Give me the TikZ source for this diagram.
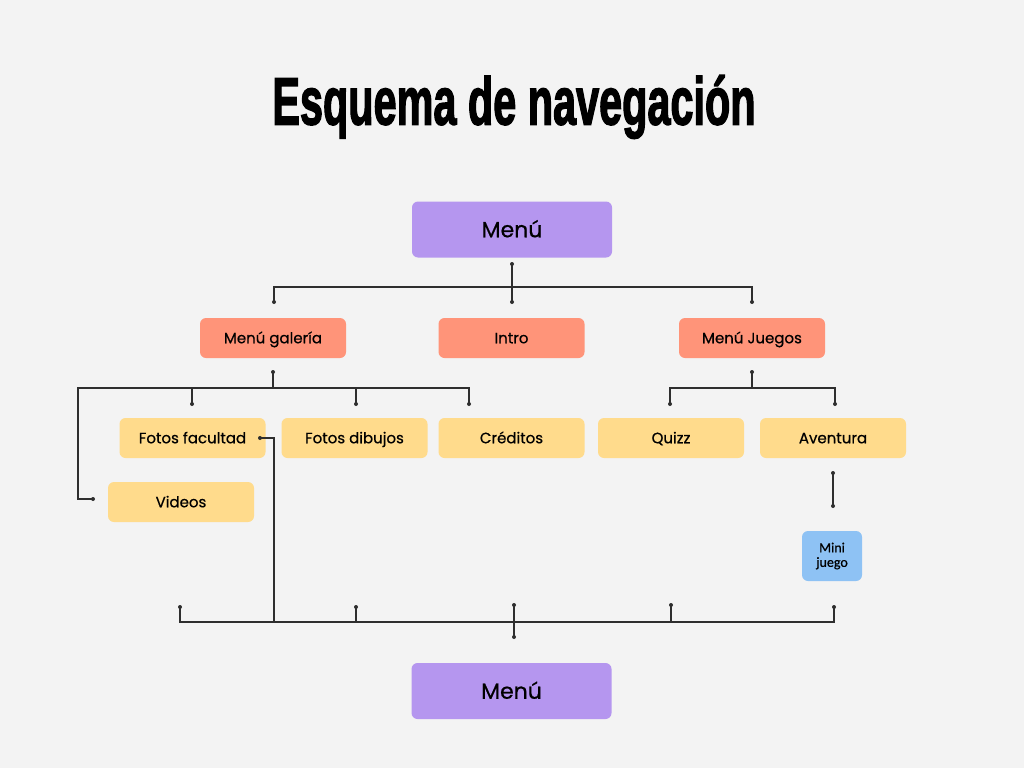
\documentclass[tikz,border=0pt]{standalone}
\usepackage{fontspec}
\setmainfont{Poppins}[FakeBold=0.6]
\newfontfamily\titlefont{Liberation Sans}[FakeBold=2.5]
\newfontfamily\minifont{Carlito}[FakeBold=0.6]
\usetikzlibrary{calc}
\definecolor{bg}{HTML}{F3F3F3}
\definecolor{cpur}{HTML}{B596EF}
\definecolor{csal}{HTML}{FF9479}
\definecolor{cyel}{HTML}{FFDB8C}
\definecolor{cblu}{HTML}{8EC2F4}
\definecolor{cln}{HTML}{2E2E2E}
\tikzset{
  box/.style={rounded corners=6pt, inner sep=0pt, text=black, align=center},
  bigbox/.style={box, fill=cpur, minimum width=200pt, minimum height=56pt, text height=15.5pt, text depth=0pt, font=\fontsize{22}{26}\selectfont},
  midbox/.style={box, fill=csal, minimum width=146pt, minimum height=40pt, text height=10.5pt, text depth=0pt, font=\fontsize{15}{18}\selectfont},
  leafbox/.style={box, fill=cyel, minimum width=146pt, minimum height=40pt, text height=10.5pt, text depth=0pt, font=\fontsize{15}{18}\selectfont},
  minibox/.style={box, fill=cblu, minimum width=60pt, minimum height=50pt, font=\minifont\fontsize{14}{14.5}\selectfont},
  ln/.style={draw=cln, line width=1.2pt},
  dot/.style={fill=cln, radius=2pt}
}
\begin{document}
\begin{tikzpicture}[x=1pt,y=-1pt]
\fill[bg] (0,0) rectangle (1024,768);
\useasboundingbox (0,0) rectangle (1024,768);
\node (title) at (514,107) {\scalebox{0.618}[1]{\titlefont\bfseries\fontsize{67}{67}\selectfont Esquema de navegación}};
\node[bigbox] (menu) at (512,229.5) {Menú};
\node[midbox] (gal) at (273,338) {Menú galería};
\node[midbox] (intro) at (511.5,338) {Intro};
\node[midbox] (jue) at (752,338) {Menú Juegos};
\node[leafbox] (ff) at (192.5,438) {Fotos facultad};
\node[leafbox] (fd) at (354.5,438) {Fotos dibujos};
\node[leafbox] (cr) at (511.5,438) {Créditos};
\node[leafbox] (qz) at (671,438) {Quizz};
\node[leafbox] (av) at (833,438) {Aventura};
\node[leafbox] (vid) at (181,502) {Videos};
\node[minibox] (mini) at (832,556) {Mini\\juego};
\node[bigbox] (menu2) at (511.5,691) {Menú};
% coordinates
\coordinate (a0) at (512,264);
\coordinate (a1) at (274,302);
\coordinate (a2) at (512,302);
\coordinate (a3) at (752,302);
\coordinate (b0) at (273,372);
\coordinate (b1) at (192,404);
\coordinate (b2) at (356,404);
\coordinate (b3) at (469,404);
\coordinate (b4) at (93,499);
\coordinate (c0) at (752,372);
\coordinate (c1) at (670,404);
\coordinate (c2) at (835,404);
\coordinate (d0) at (260,438);
\coordinate (e0) at (833,473);
\coordinate (e1) at (833,506);
\coordinate (f1) at (180,607);
\coordinate (f2) at (356,607);
\coordinate (f3) at (514,605);
\coordinate (f4) at (671,605);
\coordinate (f5) at (834,607);
\coordinate (f0) at (514,637);
% connectors
\draw[ln] (a0) -- (a2);
\draw[ln] (a1) -- ++(0,-15) -| (a3);
\draw[ln] (b0) -- ++(0,16) coordinate (bj);
\draw[ln] (b1) -- ++(0,-16) -| (b3);
\draw[ln] (b2) -- ++(0,-16);
\draw[ln] (b4) -| (78,388) -- (bj);
\draw[ln] (c0) -- ++(0,16);
\draw[ln] (c1) -- ++(0,-16) -| (c2);
\draw[ln] (d0) -- (274,438) -- (274,622);
\draw[ln] (e0) -- (e1);
\draw[ln] (f1) -- ++(0,15) -| (f5);
\draw[ln] (f2) -- ++(0,15);
\draw[ln] (f3) -- (f0);
\draw[ln] (f4) -- ++(0,17);
\foreach \p in {a0,a1,a2,a3,b0,b1,b2,b3,b4,c0,c1,c2,d0,e0,e1,f1,f2,f3,f4,f5,f0}
  \fill[dot] (\p) circle[radius=2pt];
\end{tikzpicture}
\end{document}
